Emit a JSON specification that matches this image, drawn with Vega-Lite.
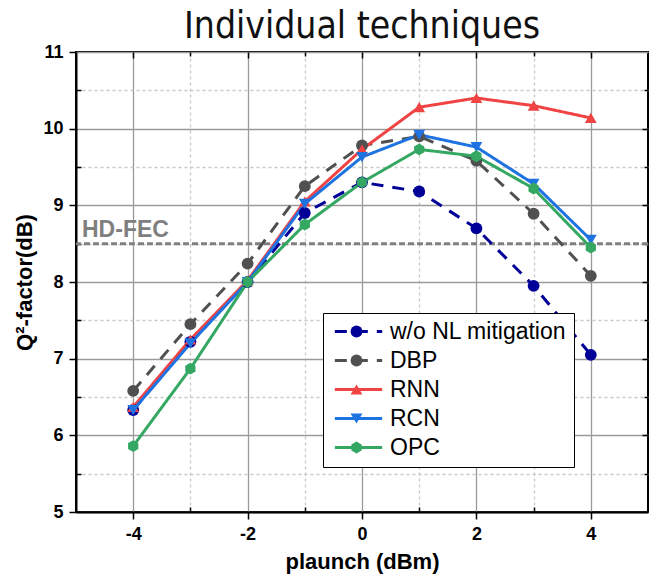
{
  "$schema": "https://vega.github.io/schema/vega-lite/v6.json",
  "autosize": "none",
  "width": 572,
  "height": 460,
  "padding": {"left": 76, "top": 52, "right": 6, "bottom": 67},
  "background": "white",
  "title": {
    "text": "Individual techniques",
    "font": "DejaVu Sans Condensed",
    "fontSize": 37,
    "fontWeight": 500,
    "color": "#111111",
    "anchor": "middle",
    "baseline": "alphabetic",
    "offset": 6,
    "dy": 38
  },
  "config": {
    "view": {"stroke": "black", "strokeWidth": 2},
    "axis": {
      "labelFont": "Liberation Sans",
      "labelFontWeight": "bold",
      "labelFontSize": 18,
      "labelColor": "black",
      "titleFont": "Liberation Sans",
      "titleFontWeight": "bold",
      "titleFontSize": 22,
      "titleColor": "black",
      "domainColor": "black",
      "domainWidth": 2,
      "tickColor": "black",
      "tickWidth": 1.5
    }
  },
  "datasets": {
    "series": [
      {"series": "w/o NL mitigation", "p": -4, "q": 6.33},
      {"series": "w/o NL mitigation", "p": -3, "q": 7.22},
      {"series": "w/o NL mitigation", "p": -2, "q": 8.0},
      {"series": "w/o NL mitigation", "p": -1, "q": 8.9},
      {"series": "w/o NL mitigation", "p": 0, "q": 9.3},
      {"series": "w/o NL mitigation", "p": 1, "q": 9.18},
      {"series": "w/o NL mitigation", "p": 2, "q": 8.7},
      {"series": "w/o NL mitigation", "p": 3, "q": 7.95},
      {"series": "w/o NL mitigation", "p": 4, "q": 7.05},
      {"series": "DBP", "p": -4, "q": 6.58},
      {"series": "DBP", "p": -3, "q": 7.45},
      {"series": "DBP", "p": -2, "q": 8.24},
      {"series": "DBP", "p": -1, "q": 9.25},
      {"series": "DBP", "p": 0, "q": 9.78},
      {"series": "DBP", "p": 1, "q": 9.9},
      {"series": "DBP", "p": 2, "q": 9.58},
      {"series": "DBP", "p": 3, "q": 8.89},
      {"series": "DBP", "p": 4, "q": 8.08},
      {"series": "RNN", "p": -4, "q": 6.37},
      {"series": "RNN", "p": -3, "q": 7.25},
      {"series": "RNN", "p": -2, "q": 8.02},
      {"series": "RNN", "p": -1, "q": 9.05},
      {"series": "RNN", "p": 0, "q": 9.73},
      {"series": "RNN", "p": 1, "q": 10.28},
      {"series": "RNN", "p": 2, "q": 10.4},
      {"series": "RNN", "p": 3, "q": 10.3},
      {"series": "RNN", "p": 4, "q": 10.14},
      {"series": "RCN", "p": -4, "q": 6.33},
      {"series": "RCN", "p": -3, "q": 7.2},
      {"series": "RCN", "p": -2, "q": 8.0},
      {"series": "RCN", "p": -1, "q": 9.02},
      {"series": "RCN", "p": 0, "q": 9.63},
      {"series": "RCN", "p": 1, "q": 9.92},
      {"series": "RCN", "p": 2, "q": 9.76},
      {"series": "RCN", "p": 3, "q": 9.28},
      {"series": "RCN", "p": 4, "q": 8.55},
      {"series": "OPC", "p": -4, "q": 5.86},
      {"series": "OPC", "p": -3, "q": 6.87},
      {"series": "OPC", "p": -2, "q": 8.0},
      {"series": "OPC", "p": -1, "q": 8.75},
      {"series": "OPC", "p": 0, "q": 9.3},
      {"series": "OPC", "p": 1, "q": 9.73},
      {"series": "OPC", "p": 2, "q": 9.64},
      {"series": "OPC", "p": 3, "q": 9.22},
      {"series": "OPC", "p": 4, "q": 8.45}
    ],
    "fec": [{"label": "HD-FEC", "p": -5, "q": 8.5}]
  },
  "resolve": {
    "axis": {"x": "independent", "y": "independent"},
    "legend": {"color": "independent", "shape": "independent", "strokeDash": "independent"}
  },
  "layer": [
    {
      "data": {"name": "fec"},
      "mark": {"type": "rule", "color": "#808080", "strokeWidth": 3, "strokeDash": [6, 3]},
      "encoding": {
        "y": {"field": "q", "type": "quantitative", "axis": null}
      }
    },
    {
      "data": {"name": "fec"},
      "mark": {"type": "text", "align": "left", "baseline": "alphabetic", "dx": 6, "dy": -7, "font": "Liberation Sans", "fontWeight": "bold", "fontSize": 23, "color": "#7f7f7f"},
      "encoding": {
        "x": {"field": "p", "type": "quantitative", "axis": null},
        "y": {"field": "q", "type": "quantitative", "axis": null},
        "text": {"field": "label"}
      }
    },
    {
      "data": {"name": "series"},
      "mark": {"type": "line", "strokeWidth": 3},
      "encoding": {
        "x": {
          "field": "p", "type": "quantitative",
          "scale": {"domain": [-5, 5], "nice": false, "zero": false},
          "title": "plaunch (dBm)",
          "axis": {
            "values": [-4, -3, -2, -1, 0, 1, 2, 3, 4],
            "labelExpr": "datum.value % 2 === 0 ? toString(datum.value) : ''",
            "tickSize": {"condition": {"test": "datum.value % 2 !== 0", "value": -5}, "value": 7},
            "labelPadding": 6,
            "titlePadding": 8,
            "grid": true,
            "gridColor": {"condition": {"test": "datum.value % 2 !== 0", "value": "#c8c8c8"}, "value": "#9a9a9a"},
            "gridDash": {"condition": {"test": "datum.value % 2 !== 0", "value": [3, 3]}, "value": []},
            "gridWidth": 1.3
          }
        },
        "y": {
          "field": "q", "type": "quantitative",
          "scale": {"domain": [5, 11], "nice": false, "zero": false},
          "title": "Q²-factor(dB)",
          "axis": {
            "values": [5, 5.5, 6, 6.5, 7, 7.5, 8, 8.5, 9, 9.5, 10, 10.5, 11],
            "labelExpr": "datum.value % 1 === 0 ? toString(datum.value) : ''",
            "tickSize": {"condition": {"test": "datum.value % 1 !== 0", "value": -5}, "value": 7},
            "labelPadding": 6,
            "titlePadding": 6,
            "grid": true,
            "gridColor": {"condition": {"test": "datum.value % 1 !== 0", "value": "#c8c8c8"}, "value": "#9a9a9a"},
            "gridDash": {"condition": {"test": "datum.value % 1 !== 0", "value": [3, 3]}, "value": []},
            "gridWidth": 1.3
          }
        },
        "color": {
          "field": "series", "type": "nominal",
          "scale": {
            "domain": ["w/o NL mitigation", "DBP", "RNN", "RCN", "OPC"],
            "range": ["#000099", "#505050", "#f04343", "#1f73e0", "#34a862"]
          },
          "legend": {
            "title": null, "orient": "none", "legendX": 247, "legendY": 261,
            "fillColor": "white", "strokeColor": "black", "padding": 7,
            "labelFont": "Liberation Sans", "labelFontSize": 23, "labelColor": "black", "labelLimit": 400,
            "symbolType": "M-4,0H4", "symbolSize": 140, "symbolStrokeWidth": 3,
            "symbolOffset": 17, "rowPadding": 5, "labelOffset": 20
          }
        },
        "strokeDash": {
          "field": "series", "type": "nominal",
          "scale": {
            "domain": ["w/o NL mitigation", "DBP", "RNN", "RCN", "OPC"],
            "range": [[12, 9], [12, 9], [1, 0], [1, 0], [1, 0]]
          },
          "legend": {
            "title": null, "orient": "none", "legendX": 247, "legendY": 261,
            "fillColor": "white", "strokeColor": "black", "padding": 7,
            "labelFont": "Liberation Sans", "labelFontSize": 23, "labelColor": "black", "labelLimit": 400,
            "symbolType": "M-4,0H4", "symbolSize": 140, "symbolStrokeWidth": 3,
            "symbolOffset": 17, "rowPadding": 5, "labelOffset": 20
          }
        }
      }
    },
    {
      "data": {"name": "series"},
      "mark": {"type": "point", "filled": true, "size": 140, "opacity": 1},
      "encoding": {
        "x": {
          "field": "p", "type": "quantitative",
          "axis": {
            "orient": "top", "values": [-4, -3, -2, -1, 0, 1, 2, 3, 4],
            "labels": false, "domain": false, "grid": false, "title": null,
            "tickSize": {"condition": {"test": "datum.value % 2 !== 0", "value": -4}, "value": -6}
          }
        },
        "y": {
          "field": "q", "type": "quantitative",
          "axis": {
            "orient": "right", "values": [5.5, 6, 6.5, 7, 7.5, 8, 8.5, 9, 9.5, 10, 10.5],
            "labels": false, "domain": false, "grid": false, "title": null,
            "tickSize": {"condition": {"test": "datum.value % 1 !== 0", "value": -4}, "value": -6}
          }
        },
        "color": {
          "field": "series", "type": "nominal",
          "legend": {
            "title": null, "orient": "none", "legendX": 247, "legendY": 261,
            "padding": 7, "labelFont": "Liberation Sans", "labelFontSize": 23, "labelExpr": "''",
            "symbolSize": 140, "symbolOffset": 15, "rowPadding": 5, "labelOffset": 20
          }
        },
        "shape": {
          "field": "series", "type": "nominal",
          "scale": {
            "domain": ["w/o NL mitigation", "DBP", "RNN", "RCN", "OPC"],
            "range": ["circle", "circle", "triangle-up", "triangle-down", "M0,-1L0.866,-0.5L0.866,0.5L0,1L-0.866,0.5L-0.866,-0.5Z"]
          },
          "legend": {
            "title": null, "orient": "none", "legendX": 247, "legendY": 261,
            "padding": 7, "labelFont": "Liberation Sans", "labelFontSize": 23, "labelExpr": "''",
            "symbolSize": 140, "symbolOffset": 15, "rowPadding": 5, "labelOffset": 20
          }
        }
      }
    }
  ]
}
